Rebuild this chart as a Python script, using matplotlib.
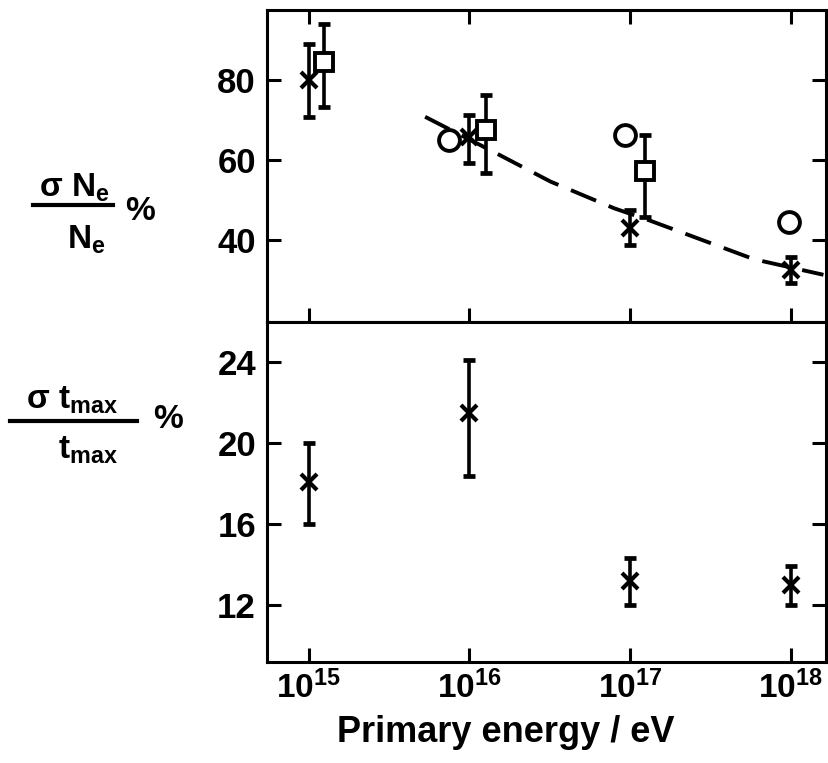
import numpy as np
import matplotlib
matplotlib.use("Agg")
import matplotlib.pyplot as plt
from matplotlib.lines import Line2D
from matplotlib.ticker import NullLocator, FixedLocator

plt.rcParams['font.family'] = ['Liberation Sans', 'DejaVu Sans']
plt.rcParams['font.weight'] = 'bold'
plt.rcParams['mathtext.fontset'] = 'custom'
plt.rcParams['mathtext.rm'] = 'Liberation Sans:bold'
plt.rcParams['mathtext.it'] = 'Liberation Sans:bold'
plt.rcParams['mathtext.bf'] = 'Liberation Sans:bold'
plt.rcParams['mathtext.sf'] = 'Liberation Sans:bold'

# sigma Ne / Ne, crosses
ne_cross_E = [1e15, 1e16, 1e17, 1e18]
ne_cross_val = [80.0, 65.8, 43.0, 32.5]
ne_cross_lo = [9.2, 6.5, 4.3, 3.2]
ne_cross_hi = [9.0, 5.5, 4.5, 3.2]

# sigma Ne / Ne, squares
ne_sq_E = [1.25e15, 1.26e16, 1.24e17]
ne_sq_val = [84.6, 67.5, 57.3]
ne_sq_lo = [11.3, 10.7, 11.5]
ne_sq_hi = [9.4, 8.7, 9.0]

# sigma Ne / Ne, circles
ne_circ_E = [7.5e15, 9.3e16, 9.7e17]
ne_circ_val = [65.0, 66.2, 44.6]

# dashed curve
curve_E = [5.3e15, 1.5e16, 3.2e16, 8.0e16, 1.3e17, 5.9e17, 1.6e18]
curve_val = [70.8, 61.5, 54.6, 47.9, 45.0, 35.2, 31.3]

# sigma tmax / tmax
tm_E = [1e15, 1e16, 1e17, 1e18]
tm_val = [18.1, 21.5, 13.2, 13.0]
tm_lo = [2.1, 3.1, 1.2, 1.0]
tm_hi = [1.9, 2.6, 1.15, 0.95]

fig = plt.figure(figsize=(8.29, 7.63), dpi=100)
W, H = 829.0, 763.0
left, right = 267 / W, 826 / W
ax1 = fig.add_axes([left, 1 - 322 / H, right - left, (322 - 10) / H])
ax2 = fig.add_axes([left, 1 - 662 / H, right - left, (662 - 322) / H], sharex=ax1)

eb = dict(fmt='none', ecolor='black', elinewidth=2.6, capsize=4.5, capthick=3.4)

ax1.errorbar(ne_cross_E, ne_cross_val, yerr=[ne_cross_lo, ne_cross_hi], **eb)
ax1.plot(ne_cross_E, ne_cross_val, 'x', color='black', ms=11, mew=3)
ax1.errorbar(ne_sq_E, ne_sq_val, yerr=[ne_sq_lo, ne_sq_hi], **eb)
ax1.plot(ne_sq_E, ne_sq_val, 's', mfc='white', mec='black', ms=13, mew=2.8)
ax1.plot(ne_circ_E, ne_circ_val, 'o', mfc='white', mec='black', ms=15, mew=2.8)
ax1.plot(curve_E, curve_val, color='black', lw=2.8, dashes=(7, 3.5))

ax2.errorbar(tm_E, tm_val, yerr=[tm_lo, tm_hi], **eb)
ax2.plot(tm_E, tm_val, 'x', color='black', ms=11, mew=3)

ax1.set_xscale('log')
ax1.set_xlim(10 ** 14.74, 10 ** 18.22)
ax1.set_ylim(19.5, 97.5)
ax2.set_ylim(9.2, 26.0)
ax1.set_yticks([40, 60, 80])
ax2.set_yticks([12, 16, 20, 24])

for ax in (ax1, ax2):
    ax.xaxis.set_major_locator(FixedLocator([1e15, 1e16, 1e17, 1e18]))
    ax.xaxis.set_minor_locator(NullLocator())
    ax.tick_params(which='major', direction='in', length=10, width=2.2,
                   labelsize=25, pad=8, top=True, right=True)
    for s in ax.spines.values():
        s.set_linewidth(2.2)

ax1.tick_params(labelbottom=False)
ax2.tick_params(top=False)
ax2.set_xticklabels([r'$10^{15}$', r'$10^{16}$', r'$10^{17}$', r'$10^{18}$'])
ax2.tick_params(axis='x', labelsize=24, pad=6)

fig.text(506 / W, 1 - 733 / H, 'Primary energy / eV', fontsize=26,
         ha='center', va='center')

# fraction-style y labels
def frac_label(num, den, xnum, xden, xl0, xl1, yline, ynum, yden, xpct, ypct):
    fig.text(xnum / W, 1 - ynum / H, num, fontsize=24, ha='center', va='center')
    fig.text(xden / W, 1 - yden / H, den, fontsize=24, ha='center', va='center')
    fig.add_artist(Line2D([xl0 / W, xl1 / W], [1 - yline / H, 1 - yline / H],
                          transform=fig.transFigure, color='black', lw=3))
    fig.text(xpct / W, 1 - ypct / H, '%', fontsize=24, ha='center', va='center')

frac_label('σ N$_{e}$', 'N$_{e}$', 74, 86, 33, 113, 205, 188, 240, 140, 212)
frac_label('σ t$_{max}$', 't$_{max}$', 72, 88, 10, 137, 421, 400, 450, 168, 420)

fig.savefig('out.png', dpi=100)
